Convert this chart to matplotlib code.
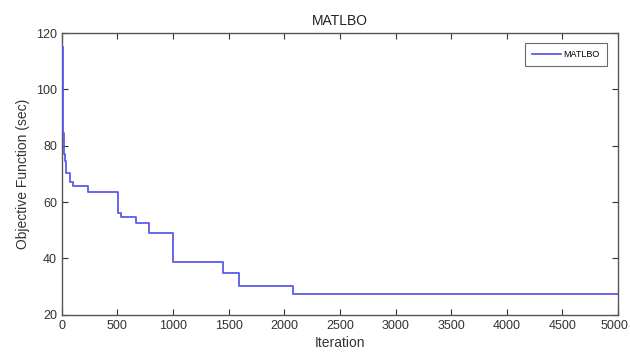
import matplotlib
matplotlib.use('Agg')
import matplotlib.pyplot as plt
import matplotlib.transforms as mtransforms

plt.rcParams['font.family'] = ['Liberation Sans', 'DejaVu Sans']

# convergence history (step changes)
iteration = [8, 12, 18, 24, 30, 36, 42, 72, 100, 234, 506, 537, 665, 786, 1000, 1451, 1594, 2075, 5000]
objective = [115, 84.5, 80, 77, 74.5, 72.5, 70.3, 67.3, 65.7, 63.6, 56.1, 54.7, 52.7, 49.2, 38.7, 35.0, 30.3, 27.4, 27.4]

fig = plt.figure(figsize=(6.3, 3.59), dpi=100)
ax = fig.add_axes([0.098, 0.123, 0.883, 0.785])

ax.plot(iteration, objective, drawstyle='steps-post', color='#5a5aea', linewidth=1.3,
        label='MATLBO', zorder=3)

ax.set_xlim(0, 5000)
ax.set_ylim(20, 120)
ax.set_xticks(range(0, 5001, 500))
ax.set_yticks(range(20, 121, 20))
ax.tick_params(direction='in', top=True, right=True, length=4, labelsize=9, colors='#333333')
for s in ax.spines.values():
    s.set_color('#555555')
    s.set_linewidth(1.0)

# nudge the last x label so it stays inside the figure
last = ax.get_xticklabels()[-1]
last.set_transform(last.get_transform() + mtransforms.ScaledTranslation(-4 / 100, 0, fig.dpi_scale_trans))

ax.set_title('MATLBO', fontsize=10, color='#222222', pad=6)
ax.set_xlabel('Iteration', fontsize=10, color='#333333', labelpad=3)
ax.set_ylabel('Objective Function (sec)', fontsize=10, color='#333333', labelpad=4)

leg = ax.legend(loc='upper right', fontsize=6.5, fancybox=False, edgecolor='#444444',
                handlelength=3.2, handletextpad=0.3, borderpad=0.8, borderaxespad=0.3,
                bbox_to_anchor=(0.985, 0.975))
leg.get_frame().set_linewidth(0.8)

fig.savefig('out.png', dpi=100)
